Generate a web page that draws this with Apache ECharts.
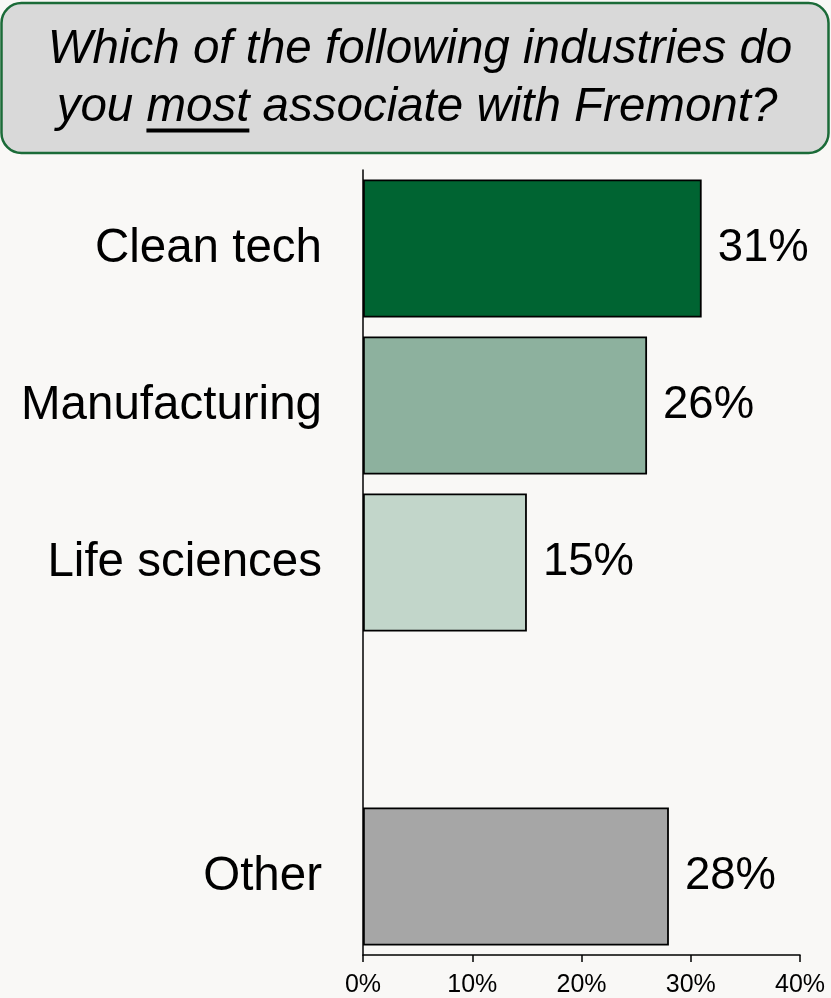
<!DOCTYPE html>
<html>
<head>
<meta charset="utf-8">
<script src="https://cdn.jsdelivr.net/npm/echarts@6/dist/echarts.min.js"></script>
<style>
  html, body { margin: 0; padding: 0; background: #f9f8f6; }
  #main { width: 831px; height: 998px; }
</style>
</head>
<body>
<div id="main"></div>
<script>
// data
const categories = ['Clean tech', 'Manufacturing', 'Life sciences', '', 'Other']
const values = [31, 26, 15, null, 28]
const xTicks = [0, 10, 20, 30, 40]
const titleLine1 = 'Which of the following industries do'
const titleLine2 = ['you ', 'most', ' associate with Fremont?']

const barColors = ['#006432', '#8db19e', '#c2d6ca', '#ffffff', '#a6a6a6']
const fontFamily = '"Liberation Sans", Arial, sans-serif'
const titleFont = 'italic 47.5px ' + fontFamily

const chart = echarts.init(document.getElementById('main'))

// measure line 2 so "most" can be underlined
const ctx = document.createElement('canvas').getContext('2d')
ctx.font = titleFont
const w1 = ctx.measureText(titleLine2[0]).width
const wm = ctx.measureText(titleLine2[1]).width
const wAll = ctx.measureText(titleLine2.join('')).width
const cx1 = 420
const cx2 = 417
const ulStart = cx2 - wAll / 2 + w1

chart.setOption({
  backgroundColor: '#f9f8f6',
  animation: false,
  grid: {
    left: 363,
    right: 31,
    top: 170,
    bottom: 42
  },
  graphic: [
    {
      type: 'rect',
      shape: { x: 1.5, y: 3, width: 827, height: 150, r: 20 },
      style: { fill: '#d9d9d9', stroke: '#1b6b38', lineWidth: 2.5 }
    },
    {
      type: 'text',
      style: {
        text: titleLine1,
        x: cx1,
        y: 50,
        fill: '#000',
        font: titleFont,
        textAlign: 'center',
        textVerticalAlign: 'middle'
      }
    },
    {
      type: 'text',
      style: {
        text: titleLine2.join(''),
        x: cx2,
        y: 107.5,
        fill: '#000',
        font: titleFont,
        textAlign: 'center',
        textVerticalAlign: 'middle'
      }
    },
    {
      type: 'line',
      shape: { x1: ulStart, y1: 130.5, x2: ulStart + wm, y2: 130.5 },
      style: { stroke: '#000', lineWidth: 4 }
    }
  ],
  xAxis: {
    type: 'value',
    min: xTicks[0],
    max: xTicks[xTicks.length - 1],
    interval: 10,
    splitLine: { show: false },
    axisLine: { show: true, lineStyle: { color: '#000', width: 1.5 } },
    axisTick: { show: true, length: 7, lineStyle: { color: '#000', width: 1.5 } },
    axisLabel: {
      color: '#000',
      fontSize: 25,
      fontFamily: fontFamily,
      margin: 18,
      formatter: '{value}%'
    }
  },
  yAxis: {
    type: 'category',
    inverse: true,
    data: categories,
    axisLine: { show: true, lineStyle: { color: '#000', width: 1.5 } },
    axisTick: { show: false },
    axisLabel: {
      color: '#000',
      fontSize: 47.5,
      fontFamily: fontFamily,
      margin: 41
    }
  },
  series: [{
    type: 'bar',
    barCategoryGap: '12%',
    data: values.map((v, i) => ({
      value: v,
      itemStyle: { color: barColors[i] }
    })),
    itemStyle: { borderColor: '#000', borderWidth: 1.8 },
    label: {
      show: true,
      position: 'right',
      distance: 16,
      color: '#000',
      fontSize: 45.5,
      fontFamily: fontFamily,
      formatter: '{c}%'
    }
  }]
})
</script>
</body>
</html>
